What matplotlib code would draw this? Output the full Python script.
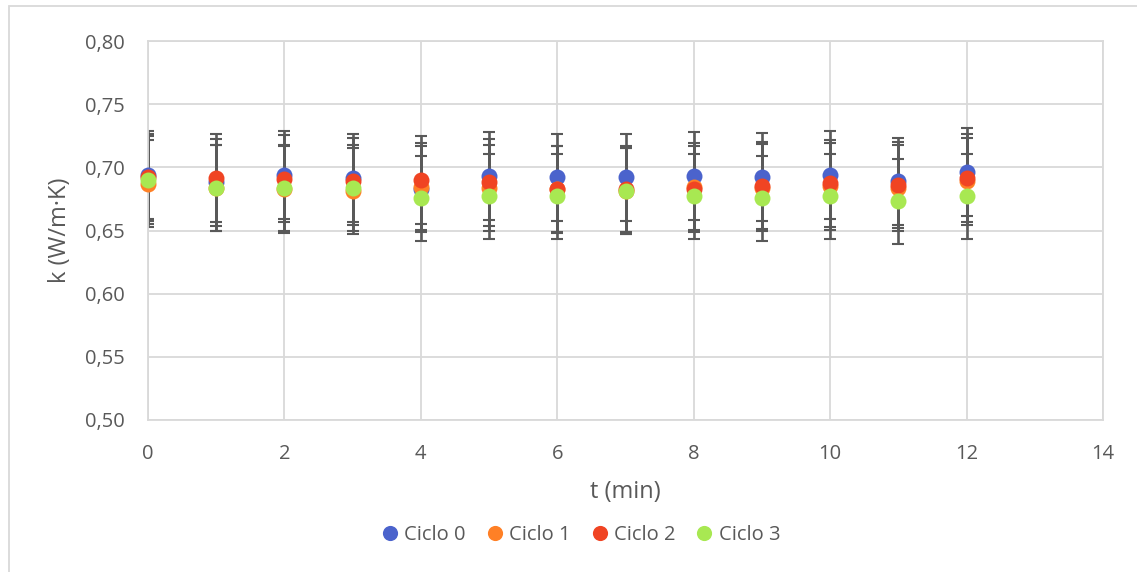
import matplotlib
matplotlib.use("Agg")
import matplotlib.pyplot as plt
from matplotlib.patches import Rectangle
import numpy as np

plt.rcParams['font.family'] = ['Open Sans', 'DejaVu Sans']

t = [0, 1, 2, 3, 4, 5, 6, 7, 8, 9, 10, 11, 12]
series_names = ["Ciclo 0", "Ciclo 1", "Ciclo 2", "Ciclo 3"]
ciclo0 = [0.694, 0.688, 0.694, 0.6915, 0.683, 0.693, 0.692, 0.692, 0.693, 0.6925, 0.694, 0.689, 0.696]
ciclo1 = [0.687, 0.6835, 0.6825, 0.681, 0.6848, 0.6835, 0.6825, 0.6815, 0.6848, 0.684, 0.685, 0.6835, 0.689]
ciclo2 = [0.692, 0.6915, 0.691, 0.689, 0.690, 0.688, 0.6826, 0.6826, 0.6826, 0.6856, 0.6873, 0.686, 0.6915]
ciclo3 = [0.690, 0.6835, 0.6835, 0.6835, 0.6755, 0.677, 0.677, 0.681, 0.677, 0.6755, 0.677, 0.6731, 0.677]
error_pct = 0.05  # percentage error bars
colors = ['#4B63CC', '#FF8026', '#F04423', '#A8E852']

W, H = 1137, 572
fig = plt.figure(figsize=(W / 100, H / 100), dpi=100)
ax = fig.add_axes([148 / W, 1 - 420 / H, (1103 - 148) / W, (420 - 41) / H])

grid_c = '#D9D9D9'
text_c = '#595959'

all_series = [ciclo0, ciclo1, ciclo2, ciclo3]
for vals in all_series:
    v = np.array(vals)
    ax.errorbar(t, v, yerr=v * error_pct, fmt='none', ecolor='#595959',
                elinewidth=1.9, capsize=4.5, capthick=1.5, zorder=2)
handles = []
for vals, c, name in zip(all_series, colors, series_names):
    h, = ax.plot(t, vals, linestyle='none', marker='o', markersize=11.5,
                 markerfacecolor=c, markeredgecolor=c, markeredgewidth=0,
                 label=name, zorder=3, clip_on=False)
    handles.append(h)

ax.set_xlim(0, 14)
ax.set_ylim(0.50, 0.80)
ax.set_xticks(range(0, 15, 2))
ax.set_yticks(np.arange(0.50, 0.801, 0.05))
ax.set_yticklabels([f"{y:.2f}".replace('.', ',') for y in np.arange(0.50, 0.801, 0.05)])
ax.grid(True, color=grid_c, linewidth=1.3, zorder=0)
ax.set_axisbelow(True)
for s in ax.spines.values():
    s.set_color(grid_c)
    s.set_linewidth(1.3)
ax.tick_params(axis='both', length=0, labelsize=14.5, colors=text_c)
ax.tick_params(axis='y', pad=17)
ax.tick_params(axis='x', pad=17)
ax.set_xlabel('t (min)', fontsize=17, color=text_c, labelpad=12)
ax.set_ylabel('k (W/m·K)', fontsize=17, color=text_c, labelpad=9)

fig.legend(handles=handles, loc='center', bbox_to_anchor=(579 / W, 1 - 535 / H),
           ncol=4, frameon=False, fontsize=14.5, labelcolor=text_c,
           handletextpad=0.1, columnspacing=0.85, markerscale=0.95,
           handlelength=1.2)

fig.patches.append(Rectangle((9 / W, -0.01), 1.02 - 9 / W, 1 - 6 / H + 0.01,
                             transform=fig.transFigure, fill=False,
                             edgecolor='#D9D9D9', linewidth=1.3))

fig.savefig('out.png', dpi=100, facecolor='white')
